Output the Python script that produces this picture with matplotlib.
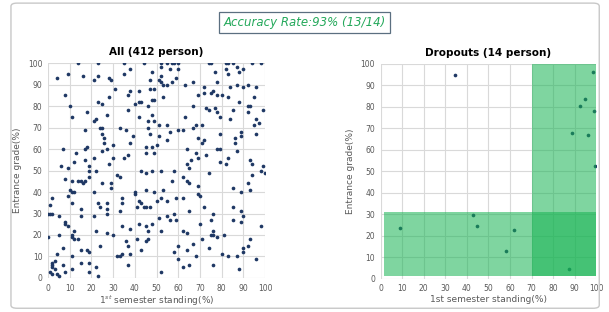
import matplotlib.pyplot as plt
from matplotlib.patches import Rectangle, FancyBboxPatch

# All students: 1st semester standing (%) vs entrance grade (%)
all_standing = [
    14, 23, 35, 44, 4, 9, 16, 21, 23, 28, 29, 35, 38, 48, 47, 31, 38, 37, 42, 47,
    8, 28, 10, 23, 25, 40, 42, 43, 46, 48, 11, 18, 22, 21, 27, 37, 42, 48, 17, 24,
    25, 33, 36, 39, 46, 46, 25, 26, 26, 30, 38, 47, 7, 18, 17, 25, 27, 45, 48, 13,
    12, 17, 21, 30, 35, 37, 45, 49, 49, 51, 51, 51, 49, 49,
    6, 9, 19, 19, 22, 28, 32, 33, 43, 45, 48, 8, 11, 14, 15, 16, 17, 19, 25, 29,
    29, 10, 11, 12, 21, 2, 1, 11, 9, 23, 24, 27, 27, 34, 34, 40, 40, 45, 49, 42,
    43, 44, 41, 45, 47, 0, 1, 2, 5, 15, 15, 21, 27, 33, 8, 8, 9, 12, 42, 45,
    48, 38, 34, 46, 0, 5, 11, 11, 12, 14, 22, 27, 30, 36, 37, 41, 45, 46, 43, 24,
    7, 4, 11, 15, 18, 19, 32, 33, 34, 38, 37, 3, 2, 2, 2, 3, 1, 2, 4, 5,
    7, 8, 11, 15, 19, 19, 22, 23,
    52, 52, 55, 57, 58, 60, 74, 75, 82, 83, 85, 94, 98, 56, 60, 59, 52, 52, 53, 55,
    57, 63, 67, 77, 82, 83, 87, 88, 90, 78, 84, 87, 90, 92, 96, 72, 72, 76, 75, 69,
    78, 80, 83, 53, 67, 73, 74, 77, 78, 85, 88, 92, 93, 92, 95, 99, 55, 63, 67, 68,
    71, 60, 62, 56, 79, 84, 96, 95, 97, 96, 79, 89, 89, 86, 86, 69, 71, 72, 55, 50,
    64, 78, 79, 87, 68, 73, 83, 66, 69, 79, 93,
    64, 65, 82, 94, 99, 100, 98, 52, 58, 62, 57, 64, 65, 74, 69, 69, 70, 85, 89, 92,
    93, 94, 53, 50, 52, 55, 59, 62, 72, 65, 76, 85, 89, 90, 51, 55, 58, 56, 59, 75,
    85, 89, 98, 70, 52, 62, 64, 76, 75, 76, 78, 81, 71, 67, 60, 74, 58, 64, 93, 92,
    90, 90, 68, 60, 80, 83, 87, 96, 65, 76, 62, 88, 52,
]
all_entrance = [
    100, 100, 100, 100, 93, 95, 94, 92, 94, 93, 92, 95, 97, 96, 92, 88, 87, 85, 87, 88,
    85, 84, 80, 82, 81, 81, 82, 82, 80, 83, 75, 77, 74, 73, 76, 78, 75, 76, 69, 70,
    70, 70, 69, 66, 73, 70, 67, 65, 63, 62, 63, 67, 60, 61, 60, 59, 60, 61, 61, 58,
    54, 55, 56, 56, 56, 57, 58, 88, 83, 92, 71, 66, 58, 73,
    52, 51, 52, 50, 50, 53, 48, 47, 50, 49, 50, 46, 45, 45, 45, 44, 45, 47, 44, 44,
    42, 41, 40, 40, 40, 37, 34, 35, 38, 35, 33, 35, 32, 37, 35, 40, 39, 41, 40, 36,
    35, 33, 33, 33, 33, 30, 30, 30, 29, 32, 29, 29, 30, 31, 26, 25, 24, 22, 25, 24,
    25, 23, 24, 22, 19, 20, 20, 19, 18, 18, 22, 21, 20, 17, 15, 18, 17, 18, 13, 15,
    14, 11, 10, 13, 13, 12, 10, 10, 11, 11, 6, 8, 7, 6, 5, 4, 3, 2, 2, 1,
    6, 3, 4, 7, 3, 7, 5, 1,
    100, 98, 100, 100, 100, 100, 100, 100, 100, 100, 100, 100, 100, 97, 97, 93, 94, 91, 90, 90,
    91, 90, 91, 96, 97, 95, 98, 96, 97, 91, 89, 90, 89, 90, 89, 89, 86, 87, 86, 85,
    85, 85, 84, 84, 80, 79, 78, 79, 77, 78, 82, 80, 80, 77, 84, 78, 71, 75, 70, 71,
    71, 69, 69, 68, 75, 74, 74, 71, 72, 67, 67, 68, 66, 65, 63, 65, 63, 64, 64, 62,
    60, 60, 60, 59, 58, 57, 56, 55, 56, 54, 55,
    53, 51, 53, 53, 52, 49, 50, 50, 50, 47, 45, 45, 44, 49, 43, 39, 38, 42, 40, 44,
    41, 48, 41, 36, 37, 36, 37, 37, 33, 31, 30, 33, 31, 29, 28, 29, 30, 27, 27, 27,
    27, 26, 24, 25, 22, 22, 21, 22, 20, 20, 19, 20, 18, 16, 15, 14, 12, 13, 18, 15,
    14, 12, 10, 9, 11, 10, 10, 9, 6, 6, 5, 4, 3,
]

# Dropouts
drop_standing = [34.5, 98.5, 95, 92.3, 99, 89, 96.4, 99.5, 9, 43, 44.9, 58, 61.8, 87.6]
drop_entrance = [95, 96.2, 83.7, 80.3, 78.2, 68, 66.9, 52.3, 23.8, 29.8, 24.8, 12.8, 22.8, 4.6]

# predicted dropout zones: (x0, x1, y0, y1)
zones = [(1.5, 99.7, 1.5, 31.3), (70.2, 99.7, 1.5, 100)]

navy = '#1f3864'
gray = '#595959'

fig = plt.figure(figsize=(6.09, 3.12), dpi=100)

# outer frame
fig.patches.append(FancyBboxPatch((0.018, 0.012), 0.966, 0.978, boxstyle='round,pad=0,rounding_size=0.01',
                                  transform=fig.transFigure, fill=False, edgecolor='#c8c8c8', linewidth=1))

fig.text(0.5, 0.929, 'Accuracy Rate:93% (13/14)', ha='center', va='center', fontsize=8.5,
         style='italic', color='#23a85a',
         bbox=dict(boxstyle='square,pad=0.35', facecolor='white', edgecolor='#5b6f80', linewidth=0.9))

ax1 = fig.add_axes([0.0788, 0.109, 0.3565, 0.689])
ax2 = fig.add_axes([0.625, 0.106, 0.354, 0.689])

for ax in (ax1, ax2):
    ax.set_xlim(0, 100)
    ax.set_ylim(0, 100)
    ax.set_xticks(range(0, 101, 10))
    ax.set_yticks(range(0, 101, 10))
    ax.grid(True, color='#d9d9d9', linewidth=0.8)
    ax.set_axisbelow(True)
    for s in ax.spines.values():
        s.set_visible(False)
    ax.tick_params(length=0, labelsize=5.5, labelcolor=gray, pad=4)
    ax.set_ylabel('Entrance grade(%)', fontsize=6.5, color=gray, labelpad=4)

ax1.scatter(all_standing, all_entrance, s=7, color=navy, linewidths=0, zorder=3)
ax1.set_xlabel('1$^{st}$ semester standing(%)', fontsize=6.5, color=gray, labelpad=1)
ax1.set_title('All (412 person)', fontsize=7.5, fontweight='bold', pad=6)

ax2.scatter(drop_standing, drop_entrance, s=7, color=navy, linewidths=0, zorder=3)
for x0, x1, y0, y1 in zones:
    ax2.add_patch(Rectangle((x0, y0), x1 - x0, y1 - y0, facecolor='#16b452', alpha=0.55,
                            edgecolor='none', zorder=4))
ax2.set_xlabel('1st semester standing(%)', fontsize=6.5, color=gray, labelpad=1)
ax2.set_title('Dropouts (14 person)', fontsize=7.5, fontweight='bold', pad=6)

fig.savefig('out.png', dpi=100)
